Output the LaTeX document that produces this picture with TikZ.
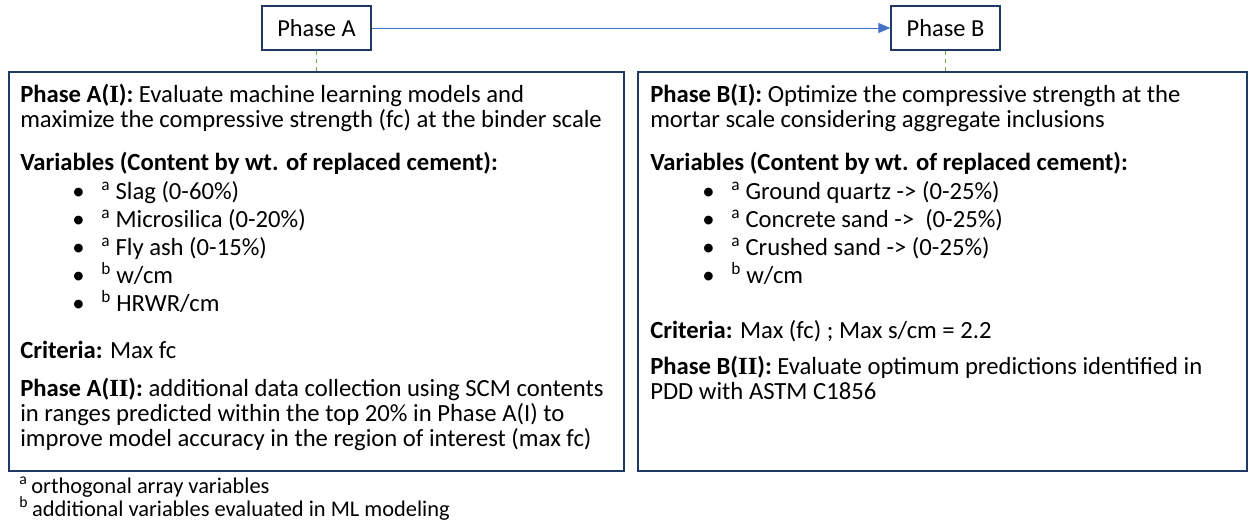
\documentclass[tikz,border=0pt]{standalone}
\usepackage{fontspec}
\setmainfont{Carlito}
\newfontfamily\numeralFont{Liberation Serif}
\usetikzlibrary{arrows.meta}
\definecolor{NavyLine}{HTML}{1F3864}
\definecolor{FlowBlue}{HTML}{4472C4}
\definecolor{LinkGreen}{HTML}{70AD47}
\tikzstyle{phaseBlock}=[draw=NavyLine, line width=1pt, minimum width=81.75pt, minimum height=33pt, inner sep=0pt, font=\fontsize{18.3}{22}\selectfont]
\tikzstyle{stageBlock}=[draw=NavyLine, line width=1.1pt, minimum height=299.25pt, inner sep=0pt]
\tikzstyle{textNode}=[anchor=base west, align=left, inner sep=0pt, font=\fontsize{18.5}{18.5}\selectfont]
\tikzstyle{noteNode}=[anchor=base west, inner sep=0pt, font=\fontsize{16.8}{18}\selectfont]
\tikzstyle{flowArrow}=[-{Triangle[length=9pt,width=7.5pt]}, draw=FlowBlue, line width=0.75pt]
\tikzstyle{linkLine}=[draw=LinkGreen, line width=1.2pt, dash pattern=on 3pt off 3pt]
\newcommand{\phaseNum}[1]{{\numeralFont\bfseries #1}}
\newcommand{\bulletItem}[2]{\makebox[21.75pt][l]{\textbullet}\textsuperscript{#1}\hspace{4pt}#2}

\begin{document}
\begin{tikzpicture}[x=0.75pt, y=-0.75pt]
    \useasboundingbox (0,0) rectangle (1250,525);

        % Phases
        \node[phaseBlock] (phaseA) at (316.5, 28) {Phase A};
        \node[phaseBlock] (phaseB) at (945.5, 28) {Phase B};
        \draw[flowArrow] (phaseA) -- (phaseB);

        % Stage blocks
        \node[stageBlock, minimum width=461.25pt] (stageA) at (316.5, 271.5) {};
        \node[stageBlock, minimum width=456.75pt] (stageB) at (942.5, 271.5) {};
        \draw[linkLine] (phaseA.south) -- (phaseA.south |- stageA.north);
        \draw[linkLine] (phaseB.south) -- (phaseB.south |- stageB.north);

        % Phase A text (base = last line)
        \node[textNode] (goalA) at (20, 127.5) {\textbf{Phase A(\phaseNum{I}):} Evaluate machine learning models and\\maximize the compressive strength (fc) at the binder scale};
        \node[textNode] (varsA) at (20, 170) {\textbf{Variables (Content by wt. of replaced cement):}};
        \node[textNode] (slagA) at (72, 199) {\bulletItem{a}{Slag (0-60\%)}};
        \node[textNode] (silicaA) at (72, 227) {\bulletItem{a}{Microsilica (0-20\%)}};
        \node[textNode] (flyashA) at (72, 255) {\bulletItem{a}{Fly ash (0-15\%)}};
        \node[textNode] (wcmA) at (72, 283) {\bulletItem{b}{w/cm}};
        \node[textNode] (hrwrA) at (72, 311) {\bulletItem{b}{HRWR/cm}};
        \node[textNode] (critA) at (20, 358) {\textbf{Criteria:} Max fc};
        \node[textNode] (extraA) at (20, 446) {\textbf{Phase A(\phaseNum{II}):} additional data collection using SCM contents\\in ranges predicted within the top 20\% in Phase A(I) to\\improve model accuracy in the region of interest (max fc)};

        % Phase B text
        \node[textNode] (goalB) at (650, 127.5) {\textbf{Phase B(\phaseNum{I}):} Optimize the compressive strength at the\\mortar scale considering aggregate inclusions};
        \node[textNode] (varsB) at (650, 170) {\textbf{Variables (Content by wt. of replaced cement):}};
        \node[textNode] (quartzB) at (702, 199) {\bulletItem{a}{Ground quartz -> (0-25\%)}};
        \node[textNode] (concreteB) at (702, 227) {\bulletItem{a}{Concrete sand ->\ \ (0-25\%)}};
        \node[textNode] (crushedB) at (702, 255) {\bulletItem{a}{Crushed sand -> (0-25\%)}};
        \node[textNode] (wcmB) at (702, 283) {\bulletItem{b}{w/cm}};
        \node[textNode] (critB) at (650, 338) {\textbf{Criteria:} Max (fc) ; Max s/cm = 2.2};
        \node[textNode] (checkB) at (650, 399) {\textbf{Phase B(\phaseNum{II}):} Evaluate optimum predictions identified in\\PDD with ASTM C1856};

        % Footnotes
        \node[noteNode] (noteA) at (19, 493) {\textsuperscript{a}\hspace{3pt}orthogonal array variables};
        \node[noteNode] (noteB) at (19, 516) {\textsuperscript{b}\hspace{3pt}additional variables evaluated in ML modeling};

\end{tikzpicture}
\end{document}
